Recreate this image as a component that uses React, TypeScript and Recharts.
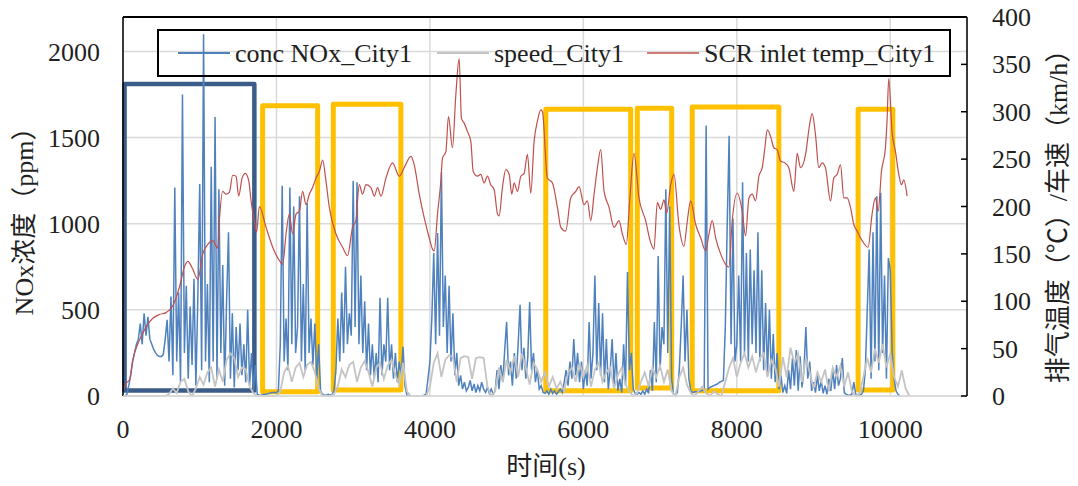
import React from 'react';
import {
  LineChart,
  Line,
  XAxis,
  YAxis,
  CartesianGrid,
  ReferenceArea,
  ReferenceLine,
} from 'recharts';

const W = 1078;
const H = 486;
const SERIF = "'Liberation Serif', 'Times New Roman', 'Noto Sans CJK SC', serif";
const TEXT = '#1f1f1f';

// NOx concentration (ppm), one sample every 25 s starting at t = 0
const NOX_STEP_S = 25;
const noxPpm: number[] = [
  0, 0, 10, 60, 120, 200, 250, 300, 330, 420, 300, 480, 350, 460, 330, 300, 270, 250, 235, 230,
  230, 240, 330, 442, 200, 577, 120, 1210, 200, 600, 80, 1750, 250, 640, 100, 520, 180, 680, 60, 560,
  1230, 150, 2100, 200, 650, 80, 1330, 200, 1620, 100, 1200, 250, 760, 60, 550, 950, 100, 480, 50, 400,
  150, 420, 120, 300, 80, 500, 60, 250, 30, 180, 10, 5, 5, 8, 10, 12, 15, 18, 20, 20,
  20, 30, 300, 1220, 200, 450, 150, 1210, 300, 1100, 250, 400, 1160, 200, 650, 150, 1120, 250, 450, 180,
  420, 100, 300, 30, 10, 5, 5, 10, 5, 10, 30, 150, 450, 200, 600, 250, 750, 300, 480, 350,
  1250, 400, 1240, 300, 700, 250, 550, 150, 420, 120, 300, 100, 250, 80, 570, 120, 300, 200, 570, 150,
  300, 100, 250, 80, 200, 120, 285, 60, 5, 3, 2, 2, 2, 2, 2, 2, 3, 5, 10, 100,
  200, 450, 830, 300, 946, 350, 1300, 400, 700, 250, 640, 200, 480, 120, 250, 60, 120, 40, 80, 30,
  50, 90, 30, 70, 20, 60, 30, 80, 40, 20, 50, 15, 40, 10, 30, 150, 40, 180, 80, 270,
  430, 120, 200, 60, 250, 100, 300, 530, 150, 280, 100, 220, 545, 150, 250, 80, 150, 40, 60, 20,
  15, 30, 10, 40, 15, 30, 10, 25, 40, 20, 80, 150, 60, 200, 100, 330, 120, 250, 80, 200,
  40, 150, 60, 430, 100, 250, 700, 150, 540, 120, 480, 80, 330, 40, 150, 330, 60, 250, 30, 100,
  20, 300, 60, 720, 150, 250, 40, 15, 10, 20, 10, 30, 10, 40, 15, 150, 30, 430, 80, 813,
  150, 400, 300, 1200, 250, 1100, 100, 10, 5, 20, 150, 400, 700, 200, 500, 100, 30, 20, 25, 25,
  25, 30, 30, 40, 1570, 40, 50, 55, 60, 65, 70, 80, 85, 90, 400, 1000, 1510, 300, 1030, 200,
  300, 700, 200, 1240, 250, 830, 200, 850, 300, 730, 250, 950, 200, 730, 150, 540, 120, 500, 100, 360,
  80, 250, 40, 120, 20, 60, 15, 150, 40, 220, 60, 267, 30, 230, 50, 150, 400, 100, 200, 30,
  80, 20, 120, 30, 90, 15, 60, 10, 100, 30, 150, 40, 180, 60, 100, 220, 20, 10, 5, 5,
  10, 80, 10, 5, 5, 10, 30, 150, 500, 850, 100, 950, 200, 1160, 150, 1180, 250, 700, 100, 800,
  730, 250, 100, 30, 10, 0,
];

// Vehicle speed (km/h), one sample every 50 s starting at t = 0
const SPEED_STEP_S = 50;
const speedKmh: number[] = [
  0, 0, 0, 0, 0, 0, 0, 0, 0, 0, 0, 0, 2, 8, 3, 15, 18, 5, 0, 8,
  20, 12, 25, 30, 10, 28, 15, 38, 45, 40, 20, 30, 28, 10, 3, 0, 0, 0, 0, 0,
  0, 5, 25, 32, 15, 30, 35, 20, 33, 36, 25, 8, 0, 0, 0, 2, 10, 28, 20, 33,
  36, 15, 30, 37, 25, 10, 30, 35, 18, 32, 38, 22, 12, 35, 5, 0, 0, 0, 0, 0,
  10, 35, 45, 20, 38, 43, 41, 15, 40, 42, 41, 18, 40, 41, 40, 10, 0, 5, 30, 15,
  38, 25, 42, 20, 45, 30, 12, 35, 28, 15, 25, 10, 20, 8, 15, 5, 25, 30, 15, 35,
  20, 32, 10, 28, 35, 15, 25, 30, 8, 22, 30, 12, 5, 0, 3, 15, 25, 10, 30, 20,
  32, 15, 28, 5, 0, 20, 30, 12, 3, 0, 5, 10, 3, 0, 5, 2, 0, 15, 30, 40,
  20, 35, 45, 30, 42, 25, 40, 45, 20, 38, 30, 10, 41, 20, 51, 35, 45, 15, 40, 25,
  8, 25, 15, 28, 5, 30, 20, 32, 10, 25, 5, 0, 3, 20, 40, 25, 50, 35, 55, 30,
  45, 20, 10, 27, 8, 0,
];

// SCR inlet temperature: [time (s), temperature (°C)]
const scrInletTemp: [number, number][] = [
  [0, 5], [45, 14], [85, 17], [128, 38], [215, 59], [302, 73], [388, 82], [475, 86], [562, 88],
  [648, 95], [736, 115], [800, 136], [844, 142], [909, 134], [975, 123], [1040, 150], [1105, 160],
  [1170, 164], [1235, 156], [1256, 185], [1300, 216], [1343, 213], [1386, 215], [1430, 233],
  [1473, 232], [1508, 211], [1552, 230], [1595, 235], [1639, 227], [1669, 206], [1710, 185],
  [1742, 173], [1777, 200], [1865, 178], [1951, 157], [2038, 143], [2081, 139], [2125, 171],
  [2168, 192], [2211, 171], [2255, 192], [2298, 195], [2341, 216], [2385, 202], [2428, 213],
  [2471, 220], [2515, 230], [2559, 237], [2602, 249], [2645, 227], [2689, 199], [2776, 171],
  [2862, 157], [2927, 148], [2992, 178], [3036, 185], [3079, 223], [3122, 213], [3167, 223],
  [3232, 220], [3275, 211], [3318, 220], [3362, 211], [3427, 230], [3513, 246], [3600, 232],
  [3665, 241], [3753, 253], [3796, 244], [3861, 213], [3926, 188], [3991, 167], [4034, 155],
  [4056, 153], [4099, 192], [4143, 227], [4164, 251], [4208, 258], [4242, 295], [4294, 262],
  [4338, 318], [4381, 356], [4411, 293], [4447, 288], [4490, 279], [4533, 269], [4564, 237],
  [4620, 232], [4663, 234], [4707, 225], [4750, 232], [4793, 223], [4837, 218], [4881, 192],
  [4902, 190], [4945, 220], [4989, 239], [5033, 234], [5067, 213], [5098, 225], [5141, 216],
  [5185, 232], [5228, 235], [5271, 255], [5315, 214], [5358, 269], [5401, 290], [5445, 302],
  [5467, 300], [5531, 230], [5596, 225], [5662, 199], [5706, 178], [5770, 174], [5835, 209],
  [5901, 216], [5944, 221], [6009, 202], [6053, 206], [6096, 185], [6140, 213], [6183, 241],
  [6226, 260], [6270, 216], [6335, 199], [6400, 178], [6465, 185], [6508, 171], [6560, 160],
  [6604, 206], [6660, 256], [6725, 209], [6812, 185], [6877, 162], [6920, 155], [6964, 204],
  [7007, 197], [7051, 207], [7086, 193], [7138, 223], [7181, 234], [7246, 180], [7311, 158],
  [7355, 185], [7398, 206], [7464, 181], [7529, 167], [7594, 153], [7637, 171], [7680, 185],
  [7724, 167], [7789, 150], [7854, 139], [7897, 136], [7940, 185], [8005, 214], [8070, 195],
  [8114, 169], [8158, 209], [8201, 213], [8244, 206], [8288, 232], [8331, 241], [8366, 262],
  [8396, 281], [8440, 274], [8483, 262], [8526, 260], [8570, 248], [8627, 246], [8678, 241],
  [8743, 216], [8787, 256], [8830, 241], [8896, 255], [8948, 286], [8982, 298], [9025, 276],
  [9069, 241], [9112, 246], [9155, 241], [9221, 206], [9264, 230], [9308, 234], [9351, 244],
  [9395, 209], [9438, 209], [9481, 199], [9525, 181], [9568, 174], [9633, 164], [9711, 157],
  [9763, 192], [9807, 209], [9842, 195], [9885, 237], [9937, 262], [9959, 293], [9980, 335],
  [10023, 279], [10068, 258], [10111, 234], [10146, 223], [10176, 228], [10219, 211],
];

const timeTicks = [0, 2000, 4000, 6000, 8000, 10000];
const noxTicks = [0, 500, 1000, 1500, 2000];
const rightTicks = [0, 50, 100, 150, 200, 250, 300, 350, 400];

const TIME_MAX = 11000;
const NOX_MAX = 2200;
const RIGHT_MAX = 400;

const seriesStyle = {
  nox: { name: 'conc NOx_City1', color: '#4f81bd', width: 1.5 },
  speed: { name: 'speed_City1', color: '#c4c4c4', width: 1.8 },
  temp: { name: 'SCR inlet temp_City1', color: '#c0504d', width: 1.2 },
};

// Highlighted driving segments: time range (s) and NOx range (ppm)
const coldStartBox = { t0: 20, t1: 1712, lo: 32, hi: 1811 };
const burstBoxes = [
  { t0: 1820, t1: 2537, lo: 25, hi: 1685 },
  { t0: 2741, t1: 3622, lo: 35, hi: 1694 },
  { t0: 5510, t1: 6617, lo: 31, hi: 1665 },
  { t0: 6703, t1: 7151, lo: 46, hi: 1671 },
  { t0: 7419, t1: 8548, lo: 31, hi: 1677 },
  { t0: 9581, t1: 10033, lo: 35, hi: 1665 },
];

const noxData = noxPpm.map((v, i) => ({ t: i * NOX_STEP_S, v }));
const speedData = speedKmh.map((v, i) => ({ t: i * SPEED_STEP_S, v }));
const tempData = scrInletTemp.map(([t, v]) => ({ t, v }));

const tickFont = { fontSize: 26, fontFamily: SERIF, fill: TEXT };

function RightTick(props: any) {
  const { x, y, payload } = props;
  return (
    <g>
      <line x1={x - 31} x2={x - 25} y1={y} y2={y} stroke="#000" strokeWidth={1.5} />
      <text x={x} y={y} dy="0.35em" textAnchor="start" {...tickFont}>
        {payload.value}
      </text>
    </g>
  );
}

const legendItems = [
  { ...seriesStyle.nox, x: 20 },
  { ...seriesStyle.speed, x: 279 },
  { ...seriesStyle.temp, x: 489 },
];

export default function App() {
  return (
    <div style={{ position: 'fixed', left: 0, top: 0, width: W, height: H, background: '#fff' }}>
      <LineChart width={W} height={H} margin={{ top: 17, right: 0, bottom: 0, left: 0 }}>
        <CartesianGrid yAxisId="left" stroke="#d9d9d9" strokeWidth={1.5} />
        <XAxis
          dataKey="t"
          type="number"
          domain={[0, TIME_MAX]}
          ticks={timeTicks}
          height={90}
          tickSize={0}
          tickMargin={24}
          tickLine={false}
          axisLine={{ stroke: '#d9d9d9', strokeWidth: 1.5 }}
          tick={tickFont}
        />
        <YAxis
          yAxisId="left"
          domain={[0, NOX_MAX]}
          ticks={noxTicks}
          width={123}
          tickSize={0}
          tickMargin={23}
          tickLine={false}
          axisLine={false}
          tick={tickFont}
        />
        <YAxis
          yAxisId="right"
          orientation="right"
          domain={[0, RIGHT_MAX]}
          ticks={rightTicks}
          width={111}
          tickSize={0}
          tickMargin={25}
          tickLine={false}
          axisLine={{ stroke: '#000', strokeWidth: 1.5 }}
          tick={<RightTick />}
        />
        <Line
          yAxisId="left"
          data={noxData}
          dataKey="v"
          name={seriesStyle.nox.name}
          stroke={seriesStyle.nox.color}
          strokeWidth={seriesStyle.nox.width}
          dot={false}
          activeDot={false}
          type="linear"
          isAnimationActive={false}
        />
        <Line
          yAxisId="right"
          data={speedData}
          dataKey="v"
          name={seriesStyle.speed.name}
          stroke={seriesStyle.speed.color}
          strokeWidth={seriesStyle.speed.width}
          dot={false}
          activeDot={false}
          type="linear"
          isAnimationActive={false}
        />
        <Line
          yAxisId="right"
          data={tempData}
          dataKey="v"
          name={seriesStyle.temp.name}
          stroke={seriesStyle.temp.color}
          strokeWidth={seriesStyle.temp.width}
          dot={false}
          activeDot={false}
          type="monotone"
          isAnimationActive={false}
        />
        <ReferenceLine yAxisId="left" x={0} stroke="#000" strokeWidth={1.5} ifOverflow="visible" />
        <ReferenceLine yAxisId="left" y={NOX_MAX} stroke="#000" strokeWidth={2} ifOverflow="visible" />
        <ReferenceArea
          yAxisId="left"
          x1={coldStartBox.t0}
          x2={coldStartBox.t1}
          y1={coldStartBox.lo}
          y2={coldStartBox.hi}
          fill="none"
          stroke="#3b5c88"
          strokeWidth={4.5}
          strokeLinejoin="round"
          ifOverflow="visible"
        />
        {burstBoxes.map((b, i) => (
          <ReferenceArea
            key={i}
            yAxisId="left"
            x1={b.t0}
            x2={b.t1}
            y1={b.lo}
            y2={b.hi}
            fill="none"
            stroke="#ffc000"
            strokeWidth={5}
            strokeLinejoin="round"
            ifOverflow="visible"
          />
        ))}
      </LineChart>
      <svg
        width={W}
        height={H}
        style={{ position: 'absolute', left: 0, top: 0, pointerEvents: 'none' }}
      >
        <g transform="translate(158,30)">
          <rect x={0} y={0} width={792} height={46} fill="none" stroke="#000" strokeWidth={2} />
          {legendItems.map((it) => (
            <g key={it.name}>
              <line x1={it.x} x2={it.x + 52} y1={23} y2={23} stroke={it.color} strokeWidth={it.width + 0.3} />
              <text x={it.x + 57} y={32} fontSize={26} fontFamily={SERIF} fill={TEXT}>
                {it.name}
              </text>
            </g>
          ))}
        </g>
        <text
          transform="translate(33,215) rotate(-90)"
          textAnchor="middle"
          fontSize={26}
          fontFamily={SERIF}
          fill={TEXT}
        >
          NOx浓度（ppm）
        </text>
        <text
          transform="translate(1067,210) rotate(-90)"
          textAnchor="middle"
          fontSize={26}
          fontFamily={SERIF}
          fill={TEXT}
        >
          排气温度（℃）/车速（km/h）
        </text>
        <text x={546} y={475} textAnchor="middle" fontSize={26} fontFamily={SERIF} fill={TEXT}>
          时间(s)
        </text>
      </svg>
    </div>
  );
}
